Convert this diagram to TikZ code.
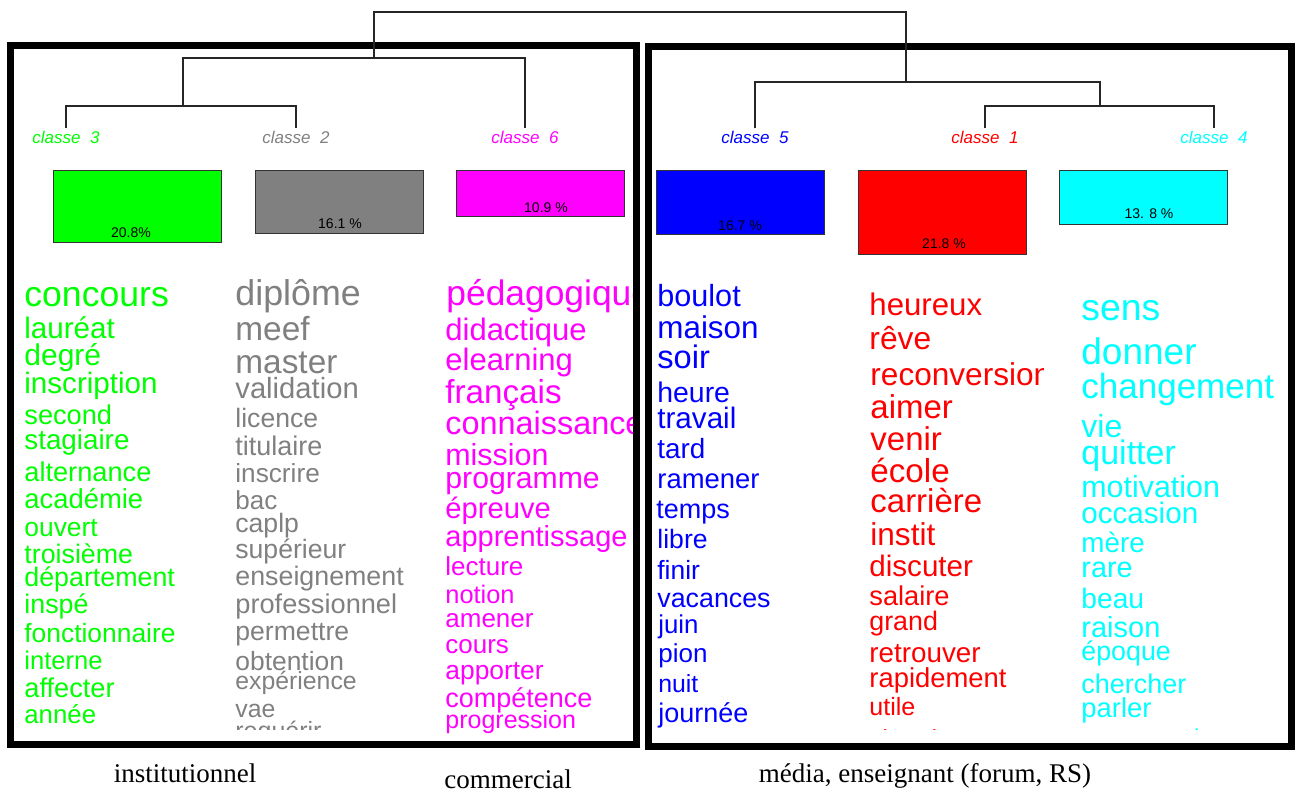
\documentclass[tikz,border=0pt]{standalone}
\usepackage{fontspec}
\setmainfont{Liberation Sans}
\newfontfamily\legendfont{Liberation Serif}
\newcommand{\taille}[1]{\fontsize{#1}{#1}\selectfont}

\definecolor{cl3}{RGB}{0,255,0}
\definecolor{cl2}{RGB}{128,128,128}
\definecolor{cl6}{RGB}{255,0,255}
\definecolor{cl5}{RGB}{0,0,255}
\definecolor{cl1}{RGB}{255,0,0}
\definecolor{cl4}{RGB}{0,255,255}

\tikzset{
  mot/.style={anchor=base west, inner sep=0pt},
  classe/.style={anchor=base, inner sep=1pt, font={\itshape\taille{8.5}}},
  barre/.style={draw=black!80, line width=0.5pt},
  pct/.style={anchor=base, inner sep=0pt, font={\taille{7}}},
  cadre/.style={line width=3.5pt},
  branche/.style={draw=black!85, line width=0.7pt},
  legende/.style={anchor=base, inner sep=0pt, font={\legendfont\taille{13.5}}}
}

\begin{document}
\begin{tikzpicture}[x=0.5pt, y=-0.5pt]
                \useasboundingbox (0,0) rectangle (1296,792);

                % Cadres des deux groupes
                \draw[cadre] (10.5,45.5) rectangle (636.5,744);
                \draw[cadre] (648.5,46.7) rectangle (1291.5,746.7);

                % Étiquettes des classes
                \node[classe, cl3] (c3) at (66,143) {classe\ \ 3};
                \node[classe, cl2] (c2) at (296,143) {classe\ \ 2};
                \node[classe, cl6] (c6) at (525,143) {classe\ \ 6};
                \node[classe, cl5] (c5) at (755,143) {classe\ \ 5};
                \node[classe, cl1] (c1) at (985,143) {classe\ \ 1};
                \node[classe, cl4] (c4) at (1214,143) {classe\ \ 4};

                % Points de fusion du dendrogramme
                \coordinate (m32) at (183,106);
                \coordinate (m326) at (374,58);
                \coordinate (m14) at (1100,106);
                \coordinate (m514) at (906,82);
                \coordinate (racine) at (640,12);

                % Branches
                \draw[branche] (c3.north) |- (m32) -| (c2.north);
                \draw[branche] (m32) |- (m326) -| (c6.north);
                \draw[branche] (c1.north) |- (m14) -| (c4.north);
                \draw[branche] (c5.north) |- (m514) -| (m14);
                \draw[branche] (m326) |- (racine) -| (m514);

                % Barres des pourcentages
                \draw[barre, fill=cl3] (53,171) rectangle (221,242);
                \draw[barre, fill=cl2] (255,171) rectangle (423,233);
                \draw[barre, fill=cl6] (456,171) rectangle (624,216);
                \draw[barre, fill=cl5] (656,171) rectangle (824,234);
                \draw[barre, fill=cl1] (858,171) rectangle (1026,254);
                \draw[barre, fill=cl4] (1059,171) rectangle (1227,224);
                \node[pct] (p3) at (131,237) {20.8\%};
                \node[pct] (p2) at (340,228) {16.1 \%};
                \node[pct] (p6) at (546,213) {10.9 \%};
                \node[pct] (p5) at (740,230) {16.7 \%};
                \node[pct] (p1) at (944,248) {21.8 \%};
                \node[pct] (p4) at (1149,218) {13. 8 \%};

                % Mots de la classe 3
                \node[mot, cl3] (w3-1) at (24,306) {\taille{17.8}concours};
                \node[mot, cl3] (w3-2) at (24,338) {\taille{14.8}lauréat};
                \node[mot, cl3] (w3-3) at (24,365) {\taille{15}degré};
                \node[mot, cl3] (w3-4) at (24,393) {\taille{14.8}inscription};
                \node[mot, cl3] (w3-5) at (24,424) {\taille{13.6}second};
                \node[mot, cl3] (w3-6) at (24,449) {\taille{13.9}stagiaire};
                \node[mot, cl3] (w3-7) at (24,481) {\taille{13.6}alternance};
                \node[mot, cl3] (w3-8) at (24,508) {\taille{13.7}académie};
                \node[mot, cl3] (w3-9) at (24,536) {\taille{13.2}ouvert};
                \node[mot, cl3] (w3-10) at (24,563) {\taille{13.4}troisième};
                \node[mot, cl3] (w3-11) at (24,586) {\taille{13.4}département};
                \node[mot, cl3] (w3-12) at (24,613) {\taille{13.4}inspé};
                \node[mot, cl3] (w3-13) at (24,642) {\taille{13.2}fonctionnaire};
                \node[mot, cl3] (w3-14) at (24,669) {\taille{12.8}interne};
                \node[mot, cl3] (w3-15) at (24,697) {\taille{13.6}affecter};
                \node[mot, cl3] (w3-16) at (24,723) {\taille{12.9}année};

                % Mots de la classe 2
                \begin{scope}
                \clip (228,270) rectangle (440,729);
                \node[mot, cl2] (w2-1) at (235,305) {\taille{17.9}diplôme};
                \node[mot, cl2] (w2-2) at (235,340) {\taille{16.7}meef};
                \node[mot, cl2] (w2-3) at (235,373) {\taille{16.7}master};
                \node[mot, cl2] (w2-4) at (235,398) {\taille{14.6}validation};
                \node[mot, cl2] (w2-5) at (235,427) {\taille{13.3}licence};
                \node[mot, cl2] (w2-6) at (235,455) {\taille{13.5}titulaire};
                \node[mot, cl2] (w2-7) at (235,482) {\taille{13.1}inscrire};
                \node[mot, cl2] (w2-8) at (235,509) {\taille{13}bac};
                \node[mot, cl2] (w2-9) at (235,532) {\taille{13.3}caplp};
                \node[mot, cl2] (w2-10) at (235,558) {\taille{13.3}supérieur};
                \node[mot, cl2] (w2-11) at (235,585) {\taille{13.4}enseignement};
                \node[mot, cl2] (w2-12) at (235,613) {\taille{13.6}professionnel};
                \node[mot, cl2] (w2-13) at (235,640) {\taille{13.3}permettre};
                \node[mot, cl2] (w2-14) at (235,670) {\taille{13.2}obtention};
                \node[mot, cl2] (w2-15) at (235,689) {\taille{12.4}expérience};
                \node[mot, cl2] (w2-16) at (235,717) {\taille{12.4}vae};
                \node[mot, cl2] (w2-17) at (235,739) {\taille{12.5}requérir};
                \end{scope}

                % Mots de la classe 6
                \begin{scope}
                \clip (440,270) rectangle (632,741);
                \node[mot, cl6] (w6-1) at (446,305) {\taille{17.7}pédagogique};
                \node[mot, cl6] (w6-2) at (445,340) {\taille{15.5}didactique};
                \node[mot, cl6] (w6-3) at (445,370) {\taille{15.5}elearning};
                \node[mot, cl6] (w6-4) at (445,403) {\taille{16.6}français};
                \node[mot, cl6] (w6-5) at (445,434) {\taille{16.2}connaissance};
                \node[mot, cl6] (w6-6) at (445,465) {\taille{15.2}mission};
                \node[mot, cl6] (w6-7) at (445,488) {\taille{15.1}programme};
                \node[mot, cl6] (w6-8) at (445,518) {\taille{14.6}épreuve};
                \node[mot, cl6] (w6-9) at (445,546) {\taille{14.5}apprentissage};
                \node[mot, cl6] (w6-10) at (445,575) {\taille{13}lecture};
                \node[mot, cl6] (w6-11) at (445,603) {\taille{12.7}notion};
                \node[mot, cl6] (w6-12) at (445,627) {\taille{13}amener};
                \node[mot, cl6] (w6-13) at (445,653) {\taille{13}cours};
                \node[mot, cl6] (w6-14) at (445,679) {\taille{13.2}apporter};
                \node[mot, cl6] (w6-15) at (445,707) {\taille{13.5}compétence};
                \node[mot, cl6] (w6-16) at (445,728) {\taille{12.5}progression};
                \end{scope}

                % Mots de la classe 5
                \node[mot, cl5] (w5-1) at (657,306) {\taille{15.3}boulot};
                \node[mot, cl5] (w5-2) at (657,338) {\taille{15.7}maison};
                \node[mot, cl5] (w5-3) at (657,368) {\taille{16.3}soir};
                \node[mot, cl5] (w5-4) at (657,402) {\taille{14.2}heure};
                \node[mot, cl5] (w5-5) at (657,428) {\taille{14.8}travail};
                \node[mot, cl5] (w5-6) at (657,458) {\taille{13.9}tard};
                \node[mot, cl5] (w5-7) at (657,488) {\taille{13.7}ramener};
                \node[mot, cl5] (w5-8) at (656,518) {\taille{13.5}temps};
                \node[mot, cl5] (w5-9) at (657,548) {\taille{13.3}libre};
                \node[mot, cl5] (w5-10) at (657,579) {\taille{13.2}finir};
                \node[mot, cl5] (w5-11) at (657,607) {\taille{13.4}vacances};
                \node[mot, cl5] (w5-12) at (658,633) {\taille{12.9}juin};
                \node[mot, cl5] (w5-13) at (658,662) {\taille{13}pion};
                \node[mot, cl5] (w5-14) at (658,692) {\taille{12.4}nuit};
                \node[mot, cl5] (w5-15) at (658,722) {\taille{13.5}journée};

                % Mots de la classe 1
                \begin{scope}
                \clip (860,270) rectangle (1043,729);
                \node[mot, cl1] (w1-1) at (869,315) {\taille{15.6}heureux};
                \node[mot, cl1] (w1-2) at (869,349) {\taille{15.9}rêve};
                \node[mot, cl1] (w1-3) at (870,385) {\taille{15.8}reconversion};
                \node[mot, cl1] (w1-4) at (870,418) {\taille{16.5}aimer};
                \node[mot, cl1] (w1-5) at (870,450) {\taille{16.5}venir};
                \node[mot, cl1] (w1-6) at (870,482) {\taille{16.6}école};
                \node[mot, cl1] (w1-7) at (870,512) {\taille{16.5}carrière};
                \node[mot, cl1] (w1-8) at (870,545) {\taille{15.8}instit};
                \node[mot, cl1] (w1-9) at (869,576) {\taille{14.8}discuter};
                \node[mot, cl1] (w1-10) at (869,605) {\taille{13.6}salaire};
                \node[mot, cl1] (w1-11) at (869,630) {\taille{13.4}grand};
                \node[mot, cl1] (w1-12) at (869,662) {\taille{13.9}retrouver};
                \node[mot, cl1] (w1-13) at (869,687) {\taille{13.7}rapidement};
                \node[mot, cl1] (w1-14) at (869,715) {\taille{12.5}utile};
                \node[mot, cl1] (w1-15) at (869,748) {\taille{13}situation};
                \end{scope}

                % Mots de la classe 4
                \begin{scope}
                \clip (1070,270) rectangle (1276,729);
                \node[mot, cl4] (w4-1) at (1081,320) {\taille{18.7}sens};
                \node[mot, cl4] (w4-2) at (1081,364) {\taille{18.5}donner};
                \node[mot, cl4] (w4-3) at (1081,398) {\taille{17.5}changement};
                \node[mot, cl4] (w4-4) at (1081,437) {\taille{16}vie};
                \node[mot, cl4] (w4-5) at (1081,464) {\taille{17}quitter};
                \node[mot, cl4] (w4-6) at (1081,497) {\taille{15.2}motivation};
                \node[mot, cl4] (w4-7) at (1081,523) {\taille{14.8}occasion};
                \node[mot, cl4] (w4-8) at (1081,552) {\taille{13.9}mère};
                \node[mot, cl4] (w4-9) at (1081,577) {\taille{14.4}rare};
                \node[mot, cl4] (w4-10) at (1081,608) {\taille{14.1}beau};
                \node[mot, cl4] (w4-11) at (1081,637) {\taille{14.5}raison};
                \node[mot, cl4] (w4-12) at (1081,660) {\taille{13.4}époque};
                \node[mot, cl4] (w4-13) at (1081,693) {\taille{13.5}chercher};
                \node[mot, cl4] (w4-14) at (1081,717) {\taille{13.7}parler};
                \node[mot, cl4] (w4-15) at (1081,748) {\taille{13.5}personnel};
                \end{scope}

                % Légendes sous les cadres
                \node[legende] (l1) at (185,782) {institutionnel};
                \node[legende] (l2) at (508,788) {commercial};
                \node[legende] (l3) at (925,782) {média, enseignant (forum, RS)};
            \end{tikzpicture}
\end{document}
